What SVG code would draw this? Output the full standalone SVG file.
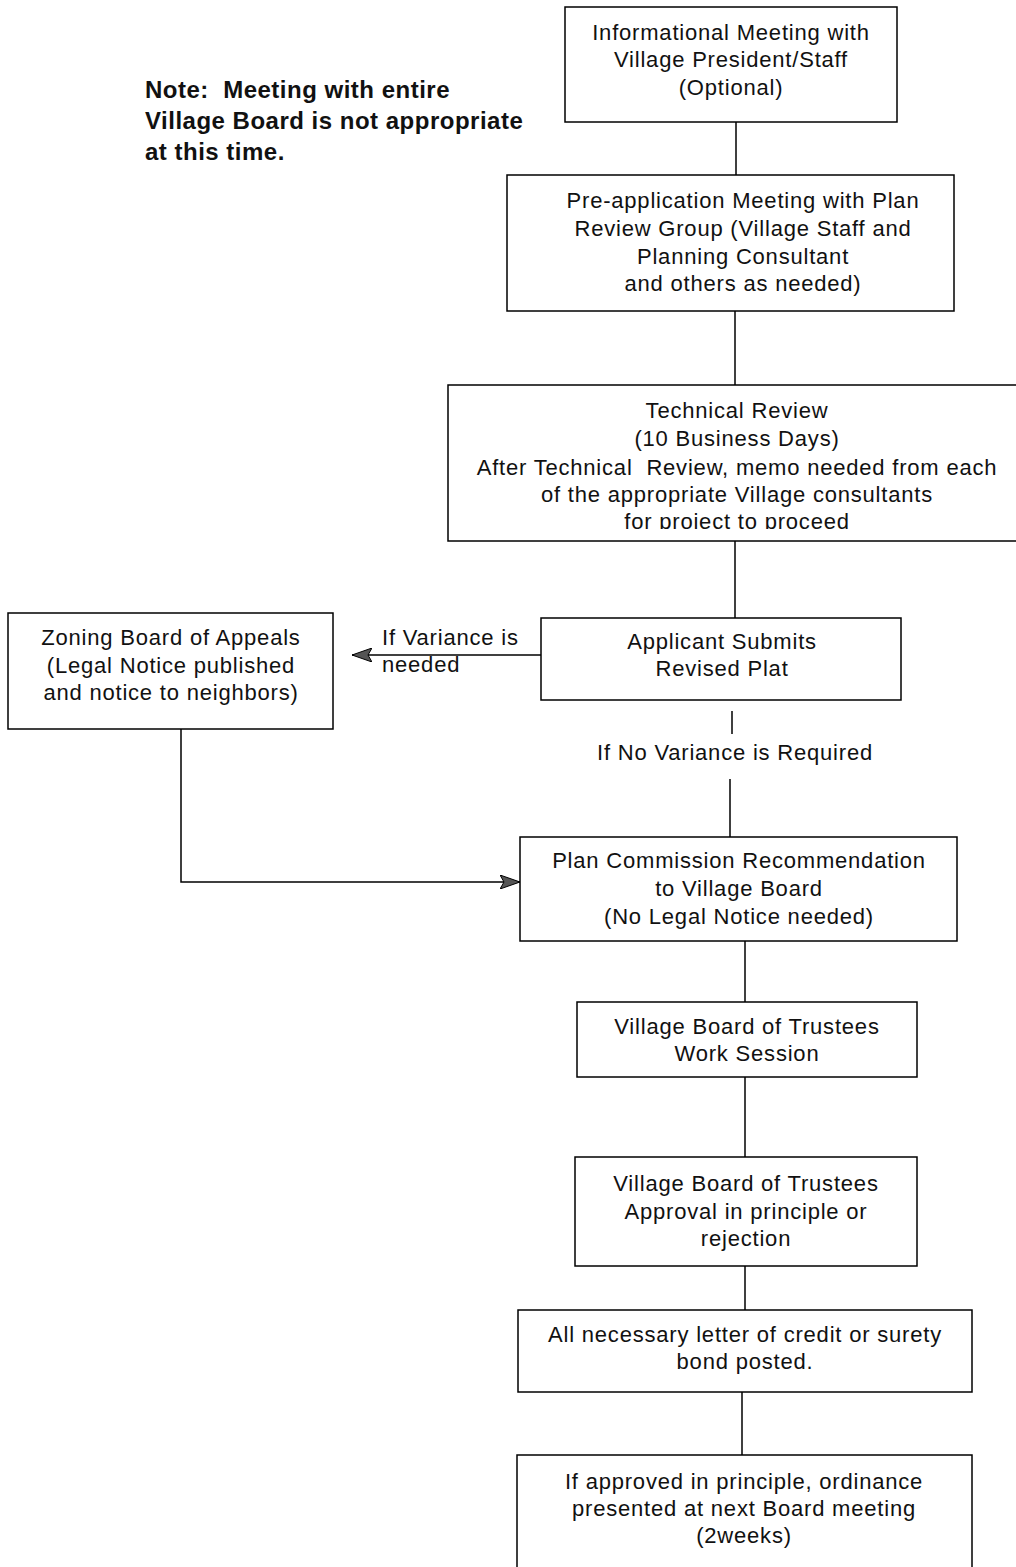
<svg xmlns="http://www.w3.org/2000/svg" width="1016" height="1567" viewBox="0 0 1016 1567">
<style>
.box{fill:none;stroke:#000;stroke-width:1.5}
.t{font-family:"Liberation Sans",Arial,sans-serif;font-size:22px;letter-spacing:0.8px;fill:#111;text-anchor:middle;dominant-baseline:central}
.tl{font-family:"Liberation Sans",Arial,sans-serif;font-size:22px;letter-spacing:0.8px;fill:#111;dominant-baseline:central}
.note{font-family:"Liberation Sans",Arial,sans-serif;font-size:24px;letter-spacing:0.5px;font-weight:bold;fill:#111;dominant-baseline:central}
.c{fill:none;stroke:#000;stroke-width:1.5}
</style>
<defs>
<marker id="arr" viewBox="0 0 20 14" refX="20" refY="7" markerWidth="20" markerHeight="14" markerUnits="userSpaceOnUse" orient="auto">
<path d="M0,0 L20,7 L0,14 L4,7 Z" fill="#555" stroke="#000" stroke-width="1"/>
</marker>
<clipPath id="clipTech"><rect x="448" y="385" width="568" height="144"/></clipPath>
</defs>
<rect width="1016" height="1567" fill="#fff"/>
<g id="note">
<text class="note" x="145" y="89" xml:space="preserve">Note:  Meeting with entire</text>
<text class="note" x="145" y="120">Village Board is not appropriate</text>
<text class="note" x="145" y="151">at this time.</text>
</g>
<g id="connectors">
<line class="c" x1="736" y1="122" x2="736" y2="175"/>
<line class="c" x1="735" y1="311" x2="735" y2="385"/>
<line class="c" x1="735" y1="541" x2="735" y2="618"/>
<line class="c" x1="541" y1="655" x2="352" y2="655" marker-end="url(#arr)"/>
<line class="c" x1="732" y1="711" x2="732" y2="734"/>
<line class="c" x1="730" y1="779" x2="730" y2="837"/>
<polyline class="c" points="181,729 181,882 520,882" marker-end="url(#arr)"/>
<line class="c" x1="745" y1="941" x2="745" y2="1002"/>
<line class="c" x1="745" y1="1077" x2="745" y2="1157"/>
<line class="c" x1="745" y1="1266" x2="745" y2="1310"/>
<line class="c" x1="742" y1="1392" x2="742" y2="1455"/>
<text class="tl" x="382" y="637">If Variance is</text>
<text class="tl" x="382" y="664">needed</text>
<text class="t" x="735" y="752">If No Variance is Required</text>
</g>
<g id="n1">
<rect class="box" x="565" y="7" width="332" height="115"/>
<text class="t" x="731" y="32">Informational Meeting with</text>
<text class="t" x="731" y="59">Village President/Staff</text>
<text class="t" x="731" y="87">(Optional)</text>
</g>
<g id="n2">
<rect class="box" x="507" y="175" width="447" height="136"/>
<text class="t" x="743" y="200">Pre-application Meeting with Plan</text>
<text class="t" x="743" y="228">Review Group (Village Staff and</text>
<text class="t" x="743" y="256">Planning Consultant</text>
<text class="t" x="743" y="283">and others as needed)</text>
</g>
<g id="n3">
<rect class="box" x="448" y="385" width="575" height="156"/>
<g clip-path="url(#clipTech)">
<text class="t" x="737" y="410">Technical Review</text>
<text class="t" x="737" y="438">(10 Business Days)</text>
<text class="t" x="737" y="467" xml:space="preserve">After Technical  Review, memo needed from each</text>
<text class="t" x="737" y="494">of the appropriate Village consultants</text>
<text class="t" x="737" y="521">for project to proceed</text>
</g>
</g>
<g id="n4">
<rect class="box" x="541" y="618" width="360" height="82"/>
<text class="t" x="722" y="641">Applicant Submits</text>
<text class="t" x="722" y="668">Revised Plat</text>
</g>
<g id="n5">
<rect class="box" x="8" y="613" width="325" height="116"/>
<text class="t" x="171" y="637">Zoning Board of Appeals</text>
<text class="t" x="171" y="665">(Legal Notice published</text>
<text class="t" x="171" y="692">and notice to neighbors)</text>
</g>
<g id="n6">
<rect class="box" x="520" y="837" width="437" height="104"/>
<text class="t" x="739" y="860">Plan Commission Recommendation</text>
<text class="t" x="739" y="888">to Village Board</text>
<text class="t" x="739" y="916">(No Legal Notice needed)</text>
</g>
<g id="n7">
<rect class="box" x="577" y="1002" width="340" height="75"/>
<text class="t" x="747" y="1026">Village Board of Trustees</text>
<text class="t" x="747" y="1053">Work Session</text>
</g>
<g id="n8">
<rect class="box" x="575" y="1157" width="342" height="109"/>
<text class="t" x="746" y="1183">Village Board of Trustees</text>
<text class="t" x="746" y="1211">Approval in principle or</text>
<text class="t" x="746" y="1238">rejection</text>
</g>
<g id="n9">
<rect class="box" x="518" y="1310" width="454" height="82"/>
<text class="t" x="745" y="1334">All necessary letter of credit or surety</text>
<text class="t" x="745" y="1361">bond posted.</text>
</g>
<g id="n10">
<rect class="box" x="517" y="1455" width="455" height="120"/>
<text class="t" x="744" y="1481">If approved in principle, ordinance</text>
<text class="t" x="744" y="1508">presented at next Board meeting</text>
<text class="t" x="744" y="1535">(2weeks)</text>
</g>
</svg>
